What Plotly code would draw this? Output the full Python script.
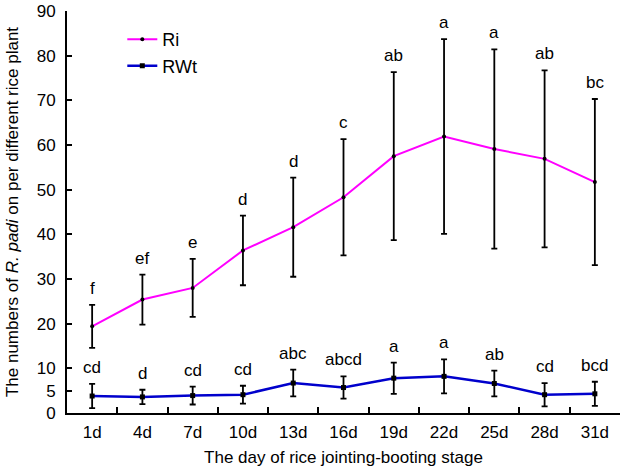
import plotly.graph_objects as go

days = ["1d", "4d", "7d", "10d", "13d", "16d", "19d", "22d", "25d", "28d", "31d"]
ri_mean = [19.4, 25.4, 28.0, 36.4, 41.6, 48.3, 57.5, 61.9, 59.1, 56.9, 51.7]
ri_err = [4.8, 5.6, 6.5, 7.8, 11.1, 13.0, 18.8, 21.8, 22.3, 19.8, 18.6]
ri_sig = ["f", "ef", "e", "d", "d", "c", "ab", "a", "a", "ab", "bc"]
rwt_mean = [3.8, 3.6, 3.9, 4.1, 6.7, 5.7, 7.8, 8.2, 6.6, 4.1, 4.3]
rwt_err = [2.7, 1.6, 2.0, 2.0, 3.0, 2.5, 3.5, 3.8, 2.9, 2.6, 2.7]
rwt_sig = ["cd", "d", "cd", "cd", "abc", "abcd", "a", "a", "ab", "cd", "bcd"]
y_ticks = [0, 5, 10, 20, 30, 40, 50, 60, 70, 80, 90]

FONT = "Liberation Sans, Arial, sans-serif"
xs = list(range(len(days)))

fig = go.Figure()
fig.add_trace(go.Scatter(
    x=xs, y=ri_mean, name="Ri", mode="lines+markers",
    line=dict(color="#ff00ff", width=2),
    marker=dict(color="black", size=4, symbol="circle"),
    error_y=dict(type="data", array=ri_err, visible=True, color="black", thickness=1.8, width=3),
))
fig.add_trace(go.Scatter(
    x=xs, y=rwt_mean, name="RWt", mode="lines+markers",
    line=dict(color="#0000cc", width=2.5),
    marker=dict(color="black", size=5, symbol="square"),
    error_y=dict(type="data", array=rwt_err, visible=True, color="black", thickness=1.8, width=3),
))

for i in xs:
    fig.add_annotation(x=i, y=ri_mean[i] + ri_err[i], text=ri_sig[i], showarrow=False,
                       yanchor="bottom", yshift=5, font=dict(size=17, color="black", family=FONT))
    fig.add_annotation(x=i, y=rwt_mean[i] + rwt_err[i], text=rwt_sig[i], showarrow=False,
                       yanchor="bottom", yshift=5, font=dict(size=17, color="black", family=FONT))

fig.update_layout(
    template="none",
    width=633, height=474,
    margin=dict(l=67, r=13, t=11, b=61),
    paper_bgcolor="white", plot_bgcolor="white",
    font=dict(family=FONT, size=17, color="black"),
    showlegend=True,
    legend=dict(x=0.1, y=0.975, xanchor="left", yanchor="top", bgcolor="rgba(0,0,0,0)",
                font=dict(size=18), itemwidth=30, tracegroupgap=0),
    xaxis=dict(
        automargin=False,
        range=[-0.5, len(days) - 0.5], tickmode="array", tickvals=xs, ticktext=days,
        ticks="", ticklabelstandoff=3, showline=True, linecolor="black", linewidth=2,
        showgrid=False, zeroline=False,
        title=dict(text="The day of rice jointing-booting stage", font=dict(size=17), standoff=10),
        minor=dict(tickmode="array", tickvals=[i + 0.5 for i in xs[:-1]], ticks="inside",
                   ticklen=6, tickwidth=1.5, tickcolor="black", showgrid=False),
    ),
    yaxis=dict(
        automargin=False,
        range=[0, 90], tickmode="array", tickvals=y_ticks, ticks="inside", ticklen=5,
        tickwidth=1.5, tickcolor="black", ticklabelstandoff=6,
        showline=True, linecolor="black", linewidth=2, showgrid=False, zeroline=False,
        title=dict(text="The numbers of <i>R. padi</i> on per different rice plant", font=dict(size=17), standoff=14),
    ),
)

fig.write_html("out.html", config={"displayModeBar": False},
               post_script="document.body.style.margin='0';")
